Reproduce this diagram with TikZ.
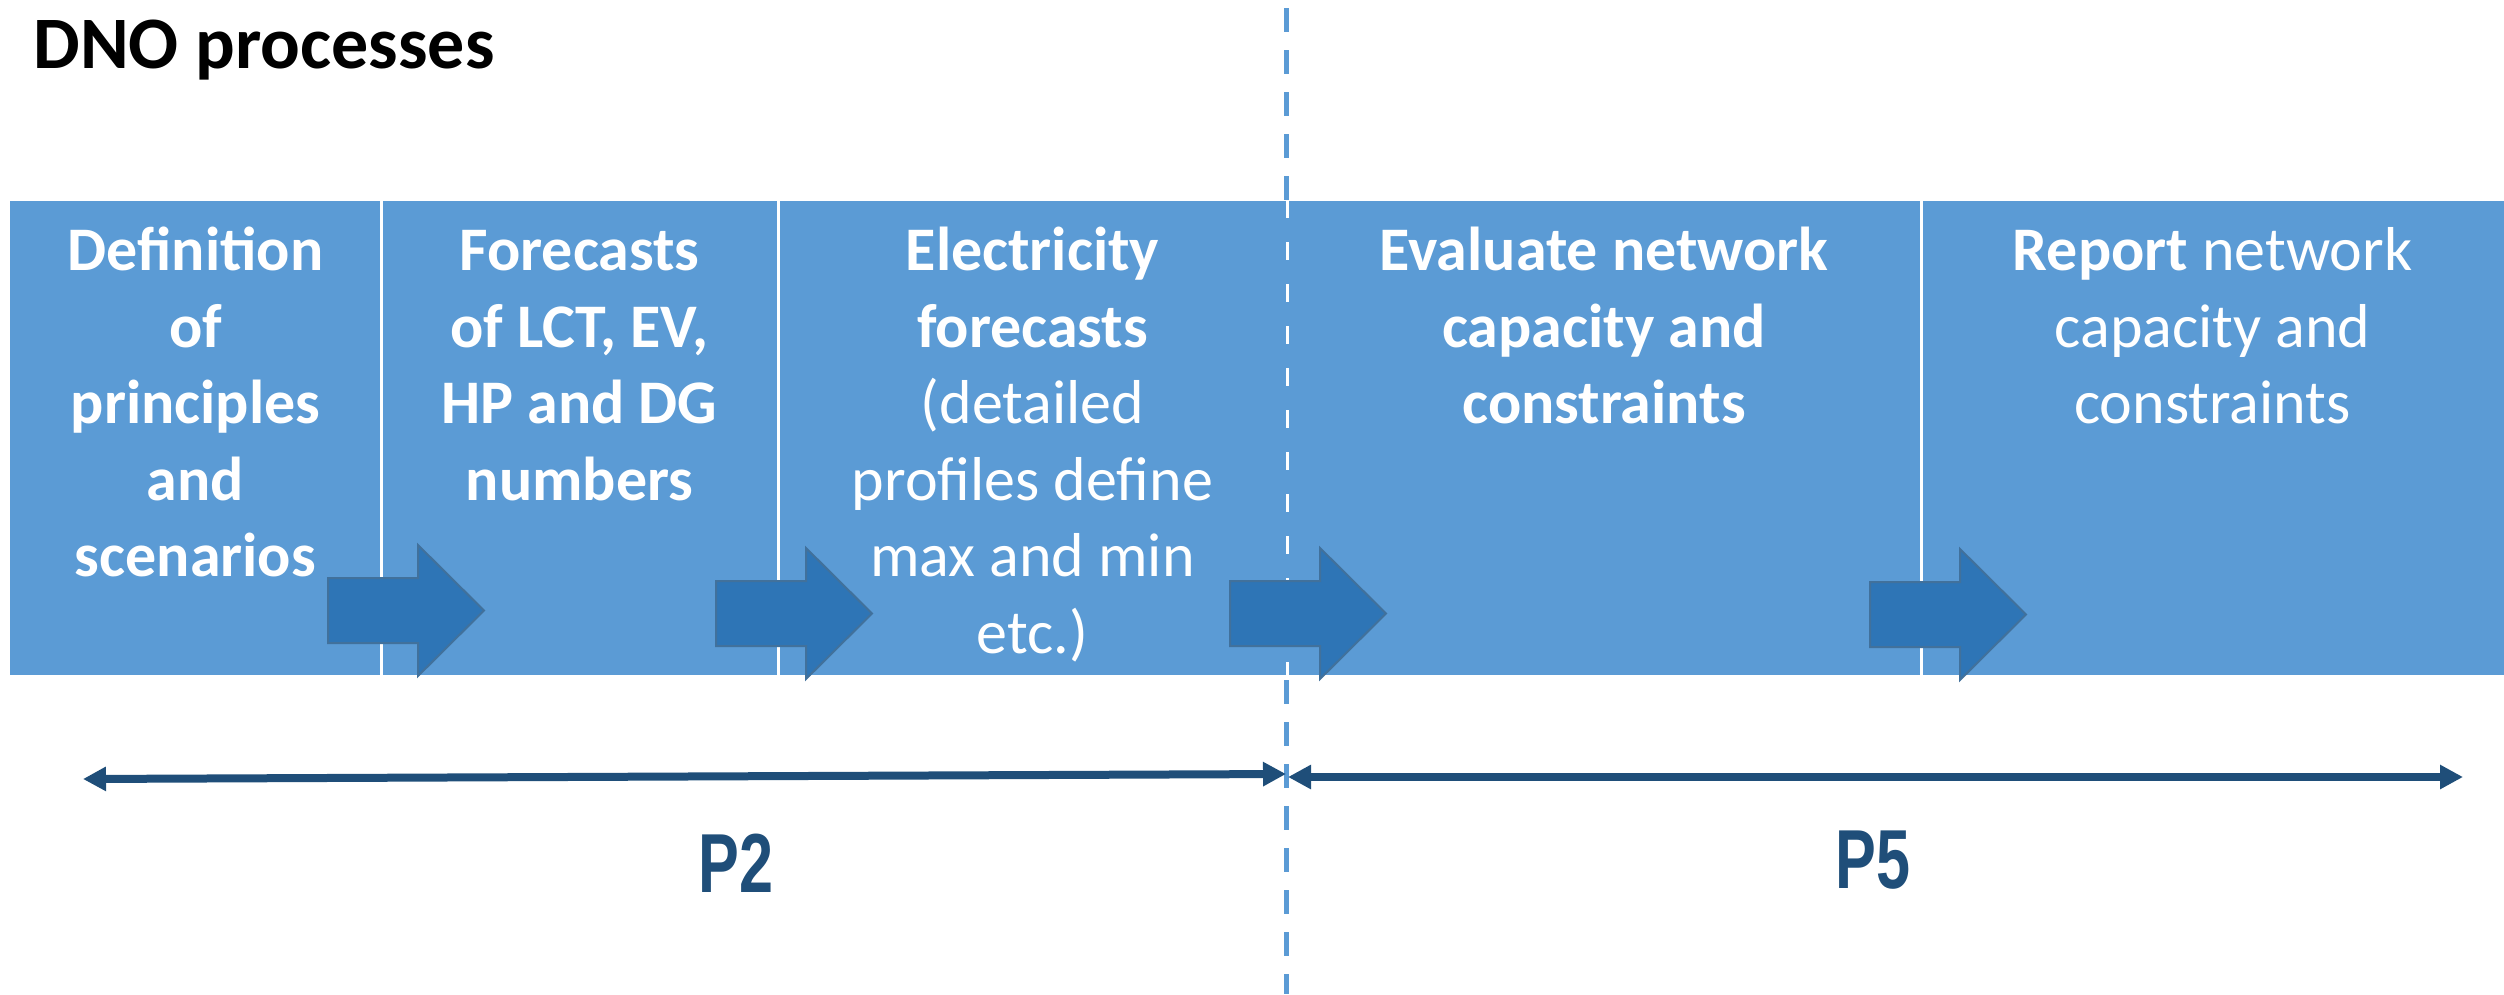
\documentclass[tikz,border=0pt]{standalone}
\usepackage{fontspec}
\setmainfont{Carlito}
\newfontfamily\labelfont{Liberation Sans}
\usetikzlibrary{arrows.meta}
\definecolor{boxblue}{HTML}{5B9BD5}
\definecolor{arrowblue}{HTML}{2E75B6}
\definecolor{arrowedge}{HTML}{41719C}
\definecolor{spanblue}{HTML}{1F4E79}
% invisible strut fixing the first baseline of each stage text
\newcommand{\firstline}{\rule{0pt}{20pt}}
\begin{document}
\begin{tikzpicture}[x=0.4pt,y=-0.4pt,
  stage/.style={fill=boxblue, inner sep=0pt, outer sep=0pt, anchor=north west,
    minimum height=189.6pt},
  divider/.style={draw=white, line width=1.2pt},
  stagetext/.style={text=white, align=center, inner sep=0pt, anchor=north,
    font=\fontsize{24.8}{30.6}\selectfont},
  phaseline/.style={draw=boxblue, line width=2pt, dash pattern=on 9.6pt off 7.2pt},
  span/.style={draw=spanblue, line width=3.2pt,
    {Triangle[length=9.2pt,width=9.2pt]}-{Triangle[length=9.2pt,width=9.2pt]}},
  phaselabel/.style={text=spanblue, inner sep=0pt, anchor=base,
    font=\labelfont\bfseries\fontsize{33.5}{40}\selectfont},
  flowarrow/.pic={
    \filldraw[fill=arrowblue, draw=arrowedge, line width=0.8pt, line join=miter]
      (0,-32.5) -- (90,-32.5) -- (90,-65.5) -- (156,0) -- (90,65.5)
      -- (90,32.5) -- (0,32.5) -- cycle;
  }
]
\useasboundingbox (0,0) rectangle (2504,994);

% heading
\node[anchor=base west, inner sep=0pt, font=\fontsize{29.6}{35}\selectfont\bfseries]
  (title) at (33,68) {DNO processes};

% process stages
\node[stage, minimum width=148.4pt] (b1) at (10,201) {};
\node[stage, minimum width=158.8pt] (b2) at (381,201) {};
\node[stage, minimum width=203.6pt] (b3) at (778,201) {};
\node[stage, minimum width=253.6pt] (b4) at (1287,201) {};
\node[stage, minimum width=233.2pt] (b5) at (1921,201) {};

\draw[divider] (b1.north east) -- (b1.south east);
\draw[divider] (b2.north east) -- (b2.south east);
\draw[divider] (b3.north east) -- (b3.south east);
\draw[divider] (b4.north east) -- (b4.south east);

% boundary between the two phases
\coordinate (dtop) at (1286,8);
\coordinate (dbot) at (1286,994);
\draw[phaseline] (dtop) -- (dbot);

% flow arrows between stages
\pic at (328,610.5) {flowarrow};
\pic at (716,613.5) {flowarrow};
\pic at (1230,613.5) {flowarrow};
\pic at (1870,614.5) {flowarrow};

% stage texts
\node[stagetext] (t1) at (195.5,220) {\firstline\textbf{Definition}\\\textbf{of}\\\textbf{principles}\\\textbf{and}\\\textbf{scenarios}};
\node[stagetext] (t2) at (579.5,220) {\firstline\textbf{Forecasts}\\\textbf{of LCT, EV,}\\\textbf{HP and DG}\\\textbf{numbers}};
\node[stagetext] (t3) at (1032.5,220) {\firstline\textbf{Electricity}\\\textbf{forecasts}\\(detailed\\profiles define\\max and min\\etc.)};
\node[stagetext] (t4) at (1604,220) {\firstline\textbf{Evaluate network}\\\textbf{capacity and}\\\textbf{constraints}};
\node[stagetext] (t5) at (2212.5,220) {\firstline\textbf{Report} network\\capacity and\\constraints};

% phase spans
\coordinate (l1) at (83,779);
\coordinate (l2) at (1286,774);
\coordinate (r1) at (1288,777);
\coordinate (r2) at (2463,777);
\draw[span] (l1) -- (l2);
\draw[span] (r1) -- (r2);

\node[phaselabel] (p2) at (736,892) {\scalebox{0.73}[1]{P2}};
\node[phaselabel] (p5) at (1873,888) {\scalebox{0.73}[1]{P5}};
\end{tikzpicture}
\end{document}
